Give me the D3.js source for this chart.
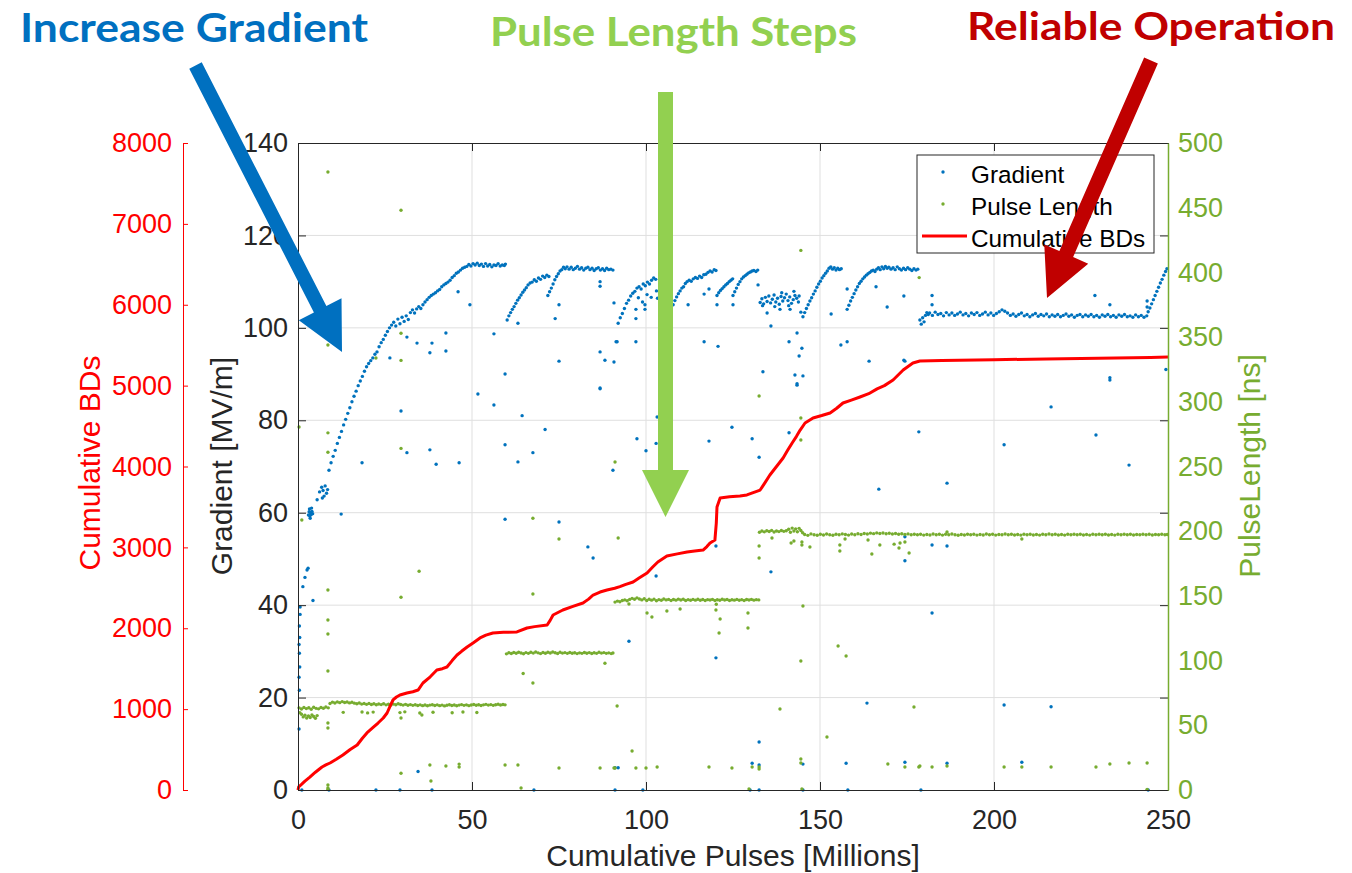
<!DOCTYPE html>
<html><head><meta charset="utf-8">
<script src="https://cdn.jsdelivr.net/npm/d3@7"></script>
<style>body{margin:0;background:#fff;} svg{display:block;}</style>
</head><body><svg id="c" width="1352" height="873"></svg>
<script>
// ---------------- DATA ----------------
const xTicks = [0, 50, 100, 150, 200, 250];
const gradTicks = [0, 20, 40, 60, 80, 100, 120, 140];
const bdTicks = [0, 1000, 2000, 3000, 4000, 5000, 6000, 7000, 8000];
const plTicks = [0, 50, 100, 150, 200, 250, 300, 350, 400, 450, 500];

// Gradient [MV/m] vs cumulative pulses [millions]
const gradStart = [[0.3,13.2],[0.4,21.6],[0.3,24.4],[0.5,26.6],[0.4,29.6],[0.3,31.5],[0.5,33],[0.4,35.5],[0.6,38],[0.6,39.6],[1.4,44],[2.0,46],[2.6,47.6],[2.9,48],[3.0,59.5],[3.2,60.2],[3.4,59.3],[3.6,60],[3.8,59.6],[4.0,60.3],[4.2,59.8],[3.5,58.8],[3.9,61],[3.3,60.8],[5.5,62.8],[6.2,64.5],[6.8,65.5],[7.2,64.8],[7.5,63.6],[7.8,65.8],[8.2,64.2],[7.0,63.2],[8.5,65]];
const gradRamp1 = [[8.9,69.2],[9.5,70.8],[10.1,72.2],[10.7,73.5],[11.3,75],[11.9,76.3],[12.5,77.6],[13.1,79],[13.7,80.2],[14.3,81.5],[14.9,82.7],[15.5,84],[16.1,85.2],[16.7,86.3],[17.3,87.5],[17.9,88.5],[18.5,89.5],[19.1,90.6],[19.7,91.6],[20.3,92.3],[20.9,92.9],[21.5,93.5],[22.1,94.3],[22.7,94.8],[23.3,95.9],[23.9,96.8],[24.5,97.5],[25.1,98.4],[25.7,99.2],[26.3,100],[26.9,100.6],[27.5,101.2],[28.1,100.4],[28.7,101.9],[29.3,100.9],[29.9,102.3],[30.5,101.4],[31.1,102.6],[31.7,101.8],[32.3,103.3],[32.9,103.9],[33.5,103.2],[34.1,104.1],[34.7,104.6],[35.3,104.2],[35.9,105],[36.5,105.6],[37.1,106.1],[37.7,106.6],[38.3,107],[38.9,107.3],[39.5,107.6],[40.1,108],[40.7,108.3],[41.3,108.9],[41.9,109.3],[42.5,109.6],[43.1,109.9],[43.7,110.3],[44.3,110.9],[44.9,111.3],[45.5,111.8],[46.1,112.1],[46.7,112.5],[47.3,112.9],[47.9,113.1],[48.5,113.3],[49.1,113.7],[49.7,113.4],[50.3,113.9],[50.9,113.6],[51.5,114],[52.1,113.5],[52.7,113.8],[53.3,113.3],[53.9,113.9],[54.5,113.4],[55.1,113.7],[55.7,113.2],[56.3,113.6],[56.9,113.5],[57.5,113.9],[58.1,113.4],[58.7,113.6],[59.3,113.5],[59.6,113.8]];
const gradRamp2 = [[60.1,101.7],[60.6,102.6],[61.1,103.3],[61.6,104],[62.1,104.6],[62.6,105.3],[63.1,106],[63.6,106.5],[64.1,107.1],[64.6,107.7],[65.1,108.2],[65.6,108.7],[66.1,109.3],[66.7,109.7],[67.3,109.9],[67.9,110.4],[68.5,110.1],[69.1,110.8],[69.7,110.5],[70.3,111.2],[70.9,110.9],[71.5,111.4],[72.1,111.1],[71.8,107],[72.3,107.8],[72.8,108.6],[73.3,109.5],[73.8,110.4],[74.3,111.1],[74.8,111.7],[75.3,112.3],[75.8,112.6],[76.3,113.1],[76.8,112.8],[77.3,113.2],[77.9,112.7],[78.5,113.1],[79.1,112.6],[79.7,112.9],[80.3,113.3],[80.9,112.7],[81.5,113],[82.1,112.5],[82.7,112.9],[83.3,113.1],[83.9,112.6],[84.5,112.9],[85.1,112.4],[85.7,112.8],[86.3,113],[86.9,112.5],[87.5,112.8],[88.1,112.4],[88.7,112.9],[89.3,112.6],[89.9,112.7],[90.5,112.5]];
const gradRamp3 = [[92,101],[92.6,102.2],[93.2,103.1],[93.8,104.2],[94.4,105.3],[95,106],[95.6,106.9],[96.2,107.5],[96.8,107.9],[97.4,108.6],[98,108.9],[98.6,108.4],[99.2,109.5],[99.8,109.1],[100.4,109.9],[101,109.5],[101.6,110.3],[102.2,110.8],[102.8,110.5],[97.8,106.5],[99,105.6],[100.3,107.2],[101.5,106.6],[103,108],[103.3,106.4],[107.8,105],[108.3,105.9],[108.8,106.7],[109.3,107.4],[109.8,108],[110.3,108.6],[110.8,108.9],[111.3,109.6],[111.8,110],[112.4,110.3],[113,110.1],[113.6,110.6],[114.2,110.9],[114.8,110.7],[115.4,111.2],[116,110.9],[116.6,111.5],[117.2,111.6],[117.8,112],[118.4,112.3],[119,112.1],[119.6,112.6],[120.1,112.4],[120.4,107],[120.9,107.6],[121.4,108.1],[121.9,108.5],[122.4,108.9],[122.9,109.3],[123.4,109.6],[123.9,110],[124.4,110.3],[124.9,110.6],[125,107],[125.5,107.8],[126,108.6],[126.5,109.4],[127,110],[127.5,110.6],[128,111],[128.5,111.3],[129,111.6],[129.5,111.9],[130,112.1],[130.5,112.3],[131,112.4],[131.6,112.2],[132.1,112.5]];
const gradBand = [[132.8,105.5],[133.3,106.3],[133.8,105.2],[134.3,106.6],[134.8,105.7],[135.3,106.9],[135.8,105.4],[136.3,106.2],[136.8,107.1],[137.3,105.6],[137.8,106.4],[138.3,105.1],[138.8,106.8],[139.3,105.8],[139.8,106.5],[140.3,107.3],[140.8,105.9],[141.3,106.7],[141.8,105.3],[142.3,106.1],[142.8,107],[143.3,106.4],[143.8,105.6],[133.5,104.8],[137,104.6],[139,107.6],[141,104.8],[142.5,107.9],[144,106.9]];
const gradRamp4 = [[145.1,102.4],[145.6,103.3],[146.1,104.2],[146.6,105],[147.1,105.8],[147.6,106.5],[148.1,107.3],[148.6,108],[149.1,108.8],[149.6,109.5],[150.1,110.1],[150.6,110.8],[151.1,111.3],[151.6,111.8],[152.1,112.3],[152.6,112.9],[153.1,113.2],[153.6,112.7],[154.1,113],[154.6,112.5],[155.1,112.9],[155.6,112.6],[156.1,112.8],[157.8,104],[158.3,104.9],[158.8,105.8],[159.3,106.6],[159.8,107.4],[160.3,108.2],[160.8,108.9],[161.3,109.6],[161.8,110.1],[162.3,110.6],[162.8,111],[163.3,111.4],[163.8,111.7],[164.3,112],[164.8,112.3],[165.3,112.5],[165.8,112.2],[166.3,112.7],[166.8,113],[167.3,112.6],[167.8,113.2],[168.3,112.8],[168.8,113.3],[169.3,112.9],[169.8,113.1],[170.4,112.7],[171,113],[171.6,112.6],[172.2,113.2],[172.8,112.8],[173.4,112.5],[174,112.9],[174.6,112.6],[175.2,113],[175.8,112.7],[176.4,112.4],[177,112.8],[177.6,112.5],[178.1,112.7]];
const gradFlat = [[178.7,101.7],[179.1,100.8],[179.5,102.2],[179.9,101.3],[180.3,102.7],[180.7,103.3],[181.1,102.9],[181.5,103.2],[182.3,102.7],[183.1,103.4],[183.9,102.9],[184.7,103.1],[185.5,102.6],[186.3,103.3],[187.1,102.8],[187.9,103.2],[188.7,102.7],[189.5,103.0],[190.3,103.4],[191.1,102.8],[191.9,103.1],[192.7,102.6],[193.5,103.2],[194.3,102.9],[195.1,103.3],[195.9,102.7],[196.7,103.0],[197.5,103.4],[198.3,102.8],[199.1,103.2],[199.9,102.7],[200.7,103.1],[201.5,103.5],[202.3,103.9],[203.1,103.6],[203.9,103.2],[204.7,102.7],[205.5,103.0],[206.3,102.5],[207.1,102.9],[207.9,103.2],[208.7,102.6],[209.5,102.9],[210.3,102.4],[211.1,102.8],[211.9,103.1],[212.7,102.5],[213.5,102.9],[214.3,102.6],[215.1,103.0],[215.9,102.4],[216.7,102.8],[217.5,102.5],[218.3,102.9],[219.1,102.4],[219.9,102.7],[220.7,103.0],[221.5,102.5],[222.3,102.8],[223.1,102.3],[223.9,102.7],[224.7,102.9],[225.5,102.4],[226.3,102.8],[227.1,102.5],[227.9,102.9],[228.7,102.4],[229.5,102.7],[230.3,102.3],[231.1,102.8],[231.9,102.5],[232.7,102.9],[233.5,102.4],[234.3,102.7],[235.1,102.3],[235.9,102.8],[236.7,102.5],[237.5,102.9],[238.3,102.4],[239.1,102.6],[239.9,102.3],[240.7,102.8],[241.5,102.4],[242.3,102.7],[243.1,102.3],[243.9,102.6],[244.3,103.5],[244.8,104.3],[245.3,105.2],[245.8,106.1],[246.3,107],[246.8,107.9],[247.3,108.8],[247.8,109.7],[248.3,110.5],[248.8,111.4],[249.3,112.2],[249.7,112.8]];
const gradOutliers = [[18.4,70.8],[29.6,82],[31.3,73],[37.9,73.6],[39.7,70.5],[46.3,70.8],[51.7,85.7],[56.3,83.3],[59.5,74.7],[63.2,71],[64.4,81],[67.5,73],[71,78],[86.8,86.8],[90.5,69.2],[59.5,58.6],[75.0,58],[83.3,52.6],[84.8,50.2],[12.4,59.7],[4.3,41],[34.5,4],[91.1,4.8],
[49.4,105],[46,107.8],[42.5,98.9],[42.5,95],[38.5,96.7],[37.9,94.6],[34.2,96.7],[31.3,98],[26.4,93.5],[56.3,98.7],[59.5,90],[63.2,101],[75,105],[75,92.8],[73.9,102],[86.8,94.8],[88.2,93],[90.8,92.6],[86.8,87],[91.7,97],[86.8,110],[86.8,109],[90.8,105.4],
[91.4,97],[97.1,97],[97.1,102],[97.1,104],[99.7,105],[99.7,104],[112.1,105],[116.7,97],[120.7,96],[120.4,105],[125,105],[116.7,107.3],[118.1,108.4],[132.2,109.3],[133.6,90.5],[134.8,103.2],[135.9,100.4],[138.5,104],[141.1,97],[141.4,104],[143.4,98.9],[144,93.9],[144.8,95.6],[142.8,89.8],[145.1,89.6],[143.4,87.6],[144.5,103.4],[153.2,103],[156,96.3],[157.8,97],[157.8,108.4],[164.1,92.8],[166.1,108.9],[169.3,104.5],[174.1,106.9],[174.1,93],
[182.2,107],[182.2,105],[174.4,92.8],[229,107],[233.3,105],[233.3,89.2],[244,105.8],[244,104.5],[249.4,91],
[97.4,76],[100,73.4],[102.9,75],[103.2,80.7],[118.1,75.5],[124.7,78.5],[130.5,76],[132.5,72],[141.1,77.3],[143.4,87.9],[120.1,52.8],[102.9,46.3],[135.9,47.2],[95.1,32.2],[120.1,28.6],[166.9,65.1],[178.4,77.5],[174.4,54.8],[174.4,49.6],[163.5,18.8],[132.5,10.4],[130.5,5.8],[132.5,5.4],[92,4.8],[145.1,5.6],[157.5,5.8],[174.4,6],
[186.5,66.4],[202.9,74.7],[216.4,82.9],[229.3,76.8],[238.8,70.3],[233.3,88.7],[182.2,53],[186.5,52.8],[182.2,38.3],[202.9,18.4],[216.4,18],[186.5,5.8],[208,6]];
const gradZeros = [[1.1,0],[8.9,0],[22.4,0],[29.3,0],[38.5,0],[67.8,0],[91.1,0],[99.1,0],[129.9,0],[132.5,0],[145.1,0],[158,0],[179,0],[244.3,0]];

// Pulse length [ns]
const pulseBand1 = [[0.3,63.5],[1.0,62.6],[1.7,63.8],[2.4,62.9],[3.1,63.6],[3.8,62.4],[4.5,63.9],[5.2,63.1],[5.9,62.7],[6.6,63.8],[7.3,63.2],[8.0,64.1],[8.7,63.5],[9.2,66.8],[9.9,67.9],[10.6,67.2],[11.3,68.1],[12.0,67.5],[12.7,68.3],[13.4,67.6],[14.1,68],[14.8,67.3],[15.5,67.8],[16.2,67.1],[16.9,66.6],[17.6,67.2],[18.3,66.4],[19.0,66.9],[19.7,66.2],[20.4,66.8],[21.1,66.1],[21.8,66.6],[22.5,65.9],[23.2,66.5],[23.9,66],[24.6,66.7],[25.3,65.8],[26.0,66.3],[26.7,65.7],[27.4,66.4],[28.1,65.9],[28.8,66.6],[29.5,66.1],[30.2,65.6],[30.9,66.2],[31.6,65.5],[32.3,66],[33.0,65.4],[33.7,65.9],[34.4,65.3],[35.1,65.8],[35.8,65.2],[36.5,65.7],[37.2,65.1],[37.9,65.6],[38.6,65.9],[39.3,65.3],[40.0,65.8],[40.7,65.2],[41.4,65.6],[42.1,65.0],[42.8,65.5],[43.5,65.9],[44.2,65.3],[44.9,65.7],[45.6,65.1],[46.3,65.6],[47.0,66],[47.7,65.4],[48.4,65.8],[49.1,65.2],[49.8,65.7],[50.5,66.1],[51.2,65.5],[51.9,65.9],[52.6,65.3],[53.3,65.8],[54.0,66.2],[54.7,65.6],[55.4,66],[56.1,65.4],[56.8,65.9],[57.5,66.3],[58.2,65.7],[58.9,66.1],[59.5,65.8],
[1.5,56.5],[2.0,57.8],[2.5,55.6],[3.0,57.2],[3.5,56],[4.0,58],[4.5,56.8],[5.0,55.4],[5.5,57.5],[0.5,59.8],[1.0,58.5]];
const pulseBand2 = [[59.9,105.2],[60.6,106.1],[61.3,105.5],[62.0,106.3],[62.7,105.7],[63.4,106.5],[64.1,105.9],[64.8,105.3],[65.5,106.2],[66.2,105.6],[66.9,106.4],[67.6,105.8],[68.3,106.6],[69.0,106],[69.7,105.4],[70.4,106.3],[71.1,105.7],[71.8,106.5],[72.5,105.9],[73.2,106.7],[73.9,106.1],[74.6,105.5],[75.3,106.4],[76.0,105.8],[76.7,106.2],[77.4,105.6],[78.1,106.3],[78.8,105.7],[79.5,106.1],[80.2,105.4],[80.9,106],[81.6,105.6],[82.3,106.3],[83.0,105.7],[83.7,106.2],[84.4,105.5],[85.1,106.1],[85.8,105.6],[86.5,106.4],[87.2,105.8],[87.9,106.2],[88.6,105.6],[89.3,106],[90.0,105.4],[90.5,105.9]];
const pulseBand3 = [[91.1,145.2],[91.8,146],[92.5,145.5],[93.2,146.4],[93.9,146.9],[94.6,146.2],[95.3,147.3],[96.0,148.1],[96.7,147.4],[97.4,148.5],[98.1,147.6],[98.8,146.9],[99.5,147.8],[100.2,146.5],[100.9,147.4],[101.6,146.7],[102.3,147.5],[103.0,146.2],[103.7,147.1],[104.4,146.6],[105.1,147.6],[105.8,146.9],[106.5,147.3],[107.2,146.4],[107.9,147.2],[108.6,146.7],[109.3,147.5],[110.0,146.8],[110.7,147.4],[111.4,146.5],[112.1,147.1],[112.8,146.6],[113.5,147.3],[114.2,146.7],[114.9,147.4],[115.6,146.6],[116.3,147.2],[117.0,146.5],[117.7,147.1],[118.4,146.8],[119.1,147.3],[119.8,146.4],[120.5,147],[121.2,146.6],[121.9,147.4],[122.6,146.8],[123.3,147.2],[124.0,146.5],[124.7,147],[125.4,146.7],[126.1,147.3],[126.8,146.6],[127.5,147.1],[128.2,146.5],[128.9,147.2],[129.6,146.8],[130.3,147.3],[131.0,146.7],[131.7,147.1],[132.4,146.9],[120.2,143.5]];
const pulseBand4 = [[132.6,199.2],[133.3,200.1],[134.0,199.5],[134.7,200.4],[135.4,199.8],[136.1,200.6],[136.8,199.4],[137.5,200.2],[138.2,199.7],[138.9,200.5],[139.6,199.9],[140.3,200.3],[141.0,201.5],[141.5,199.2],[142.0,202.4],[142.5,200.2],[143.0,201.8],[143.5,199.6],[144.0,202.2],[144.5,200.5],[145.0,198.8],
[145.6,197.4],[146.5,196.8],[147.4,197.9],[148.3,197.2],[149.2,196.9],[150.1,197.7],[151.0,197.1],[151.9,197.8],[152.8,197.3],[153.7,196.9],[154.6,197.6],[155.5,197.2],[156.4,197.9],[157.3,197.4],[158.2,197.0],[159.1,197.8],[160.0,197.3],[160.9,198.0],[161.8,197.5],[162.7,198.2],[163.6,197.8],[164.5,198.5],[165.4,198.1],[166.3,198.7],[167.2,198.2],[168.1,198.6],[169.0,198.0],[169.9,198.4],[170.8,197.8],[171.7,198.2],[172.6,197.6],[173.5,198.0],[174.4,197.4],[175.3,197.9],[176.2,197.3],[177.1,197.7],[178.0,197.2],[178.9,197.6],[179.8,197.0],[180.7,197.5],[181.6,197.1],[182.5,197.8],[183.4,197.3],[184.3,197.7],[185.2,197.0],[186.1,197.6],[187.0,197.2],[187.9,197.8],[188.8,197.3],[189.7,196.9],[190.6,197.5],[191.5,197.1],[192.4,197.7],[193.3,197.2],[194.2,197.6],[195.1,197.0],[196.0,197.5],[196.9,197.1],[197.8,197.8],[198.7,197.3],[199.6,197.6],[200.5,197.0],[201.4,197.5],[202.3,197.2],[203.2,197.8],[204.1,197.3],[205.0,197.7],[205.9,197.1],[206.8,197.5],[207.7,197.0],[208.6,197.6],[209.5,197.2],[210.4,197.7],[211.3,197.1],[212.2,197.5],[213.1,197.0],[214.0,197.6],[214.9,197.2],[215.8,197.8],[216.7,197.3],[217.6,197.6],[218.5,197.1],[219.4,197.5],[220.3,197.0],[221.2,197.6],[222.1,197.2],[223.0,197.7],[223.9,197.3],[224.8,197.6],[225.7,197.1],[226.6,197.5],[227.5,197.0],[228.4,197.6],[229.3,197.2],[230.2,197.7],[231.1,197.3],[232.0,197.6],[232.9,197.1],[233.8,197.5],[234.7,197.0],[235.6,197.6],[236.5,197.2],[237.4,197.7],[238.3,197.3],[239.2,197.6],[240.1,197.1],[241.0,197.5],[241.9,197.2],[242.8,197.7],[243.7,197.3],[244.6,197.6],[245.5,197.1],[246.4,197.5],[247.3,197.2],[248.2,197.7],[249.1,197.3],[249.8,197.5]];
const pulseOutliers = [[8.6,477.6],[29.6,448],[8.6,343.9],[22.4,333.8],[29.6,353],[29.6,332],[144.5,417],[178.5,396],
[0.3,280.5],[8.6,276],[8.6,261],[29.6,264],[91.1,253.5],[1.1,208.7],[34.8,169],[8.6,154.6],[29.6,149],[8.6,131.4],[8.6,120.6],[8.6,92],[67.5,151.5],[67.5,210],[75,194],[64.7,90],[67.5,82.7],[88.2,98],[92,194.7],
[13,60],[18.4,60.3],[20,59.6],[21.6,60.2],[29.3,59.8],[30.7,60.4],[35,59.5],[38.8,60.1],[44.3,59.7],[47.4,60.3],[51.4,59.9],[8.6,51.8],[8.6,47.9],[29.6,55.6],[35.6,58],
[29.6,13],[37.9,19.3],[42.5,18.5],[46.3,20],[46.3,17.8],[59.5,19.3],[63.2,19.3],[75,17],[86.8,17],[91.1,17],[38.2,7],[8.6,3.9],[8.6,1.5],[64.1,1.5],[8.6,0.5],
[132.5,304.5],[144.5,287.5],[144.5,270.5],[132.5,188.6],[132.5,179.3],[136.2,194.7],[141.7,190.9],[142.5,192.4],[144.8,191.6],[144.8,189.3],[147.1,187.8],[155.7,189.3],[155.7,184.7],[157.2,194],[163.8,193.2],[164.9,182.4],[167.2,189.3],[171.3,190],[173,190.9],[172.7,187],[175.6,183.2],[174.4,191.6],
[95.1,143.7],[100.3,136.8],[101.7,133.7],[106,138.3],[109.8,139.9],[120.1,139.1],[121.3,132.1],[121,121.3],[129.3,136.8],[129.3,125.2],[145.1,142.2],[144.5,99.7],[155.2,111.3],[157.5,103.6],[91.7,64.9],[138.5,62.6],[152,41],[177,64.1],[96,30.1],
[90.8,17],[97.1,17],[100,17],[103.2,17.8],[118.1,17.8],[124.7,17],[130.5,17.8],[132.5,17.8],[132.5,16.2],[144.5,24],[144.5,20.9],[169.5,20.1],[174.4,17.8],[178.4,17.8],[129.6,0.8],[144.8,0.8],
[186.5,199.4],[208,194],[178.7,18.5],[182.2,17.8],[186.5,18.5],[202.9,17.8],[208,17.8],[216.4,17.8],[229.3,17.8],[233.3,20.1],[238.8,20.9],[244,20.9],[244,0.5]];

// Cumulative breakdowns
const bdCurve = [[0,0],[0.2,40],[1,70],[2,110],[3.4,160],[5,220],[6.9,284],[8,310],[9.2,334],[11,380],[12.9,433],[15,500],[17,556],[18.5,640],[19.8,705],[21.5,770],[23,828],[24.5,890],[25.6,952],[26.5,1040],[27.3,1113],[28.3,1150],[29.3,1175],[31.3,1199],[33,1215],[34.5,1236],[35.9,1323],[38,1400],[39.9,1484],[41.5,1500],[42.8,1521],[44.3,1600],[45.7,1669],[47,1715],[48.6,1768],[50.3,1818],[52.3,1880],[54,1915],[56,1941],[59,1950],[62.9,1954],[65.8,2003],[68,2020],[71.6,2040],[72.5,2100],[73.3,2164],[76.1,2226],[79,2270],[81.9,2312],[83.5,2360],[84.8,2411],[86.8,2448],[88.8,2473],[91,2495],[92.5,2515],[94,2540],[96.3,2572],[98,2620],[100.3,2683],[102,2760],[103.4,2819],[106,2893],[109,2920],[111.8,2943],[114,2955],[116.4,2967],[117.5,3010],[118.4,3054],[119.8,3091],[120.2,3300],[120.4,3499],[121.3,3610],[124,3625],[127,3635],[129,3648],[131,3680],[132.8,3709],[134.2,3800],[135.6,3895],[137.5,4000],[139.4,4105],[140.7,4200],[142,4291],[143.2,4370],[144.3,4451],[145.7,4538],[148,4600],[150.5,4630],[152.9,4662],[154.8,4720],[156.6,4785],[159,4820],[161.5,4859],[164,4900],[166.4,4960],[168.5,5000],[171,5070],[173.9,5193],[176.7,5280],[178.7,5304],[185,5310],[200,5320],[215,5330],[230,5338],[245,5348],[250,5355]];

const legendLabels = ["Gradient", "Pulse Length", "Cumulative BDs"];

// ---------------- STYLE / LAYOUT ----------------
const C = {blue:"#0072BD", green:"#77AC30", red:"#FF0000", axis:"#262626", grid:"#dfdfdf"};
const FONT = "'Liberation Sans', Arial, Helvetica, sans-serif";
const svg = d3.select("#c");
svg.append("rect").attr("width",1352).attr("height",873).attr("fill","#fff");

const x = d3.scaleLinear().domain([0,250]).range([298,1168]);
const yG = d3.scaleLinear().domain([0,140]).range([790,143]);
const yP = d3.scaleLinear().domain([0,500]).range([790,143]);
const yB = d3.scaleLinear().domain([0,8000]).range([790,143]);
const fmt = d3.format("d");

// grid
const grid = svg.append("g");
grid.selectAll("line.v").data(xTicks.slice(1,-1)).join("line")
  .attr("x1",d=>x(d)).attr("x2",d=>x(d)).attr("y1",143).attr("y2",790)
  .attr("stroke",C.grid).attr("stroke-width",1);
grid.selectAll("line.h").data(gradTicks.slice(1,-1)).join("line")
  .attr("y1",d=>yG(d)).attr("y2",d=>yG(d)).attr("x1",298).attr("x2",1168)
  .attr("stroke",C.grid).attr("stroke-width",1);

// data
const R = 1.7;
const blueSets = [gradStart, gradRamp1, gradRamp2, gradRamp3, gradBand, gradRamp4, gradFlat, gradOutliers, gradZeros];
const gBlue = svg.append("g");
blueSets.forEach(s => {
  gBlue.append("g").selectAll("circle").data(s).join("circle")
    .attr("cx",d=>x(d[0])).attr("cy",d=>yG(d[1])).attr("r",R).attr("fill",C.blue);
});
const greenSets = [pulseBand1, pulseBand2, pulseBand3, pulseBand4, pulseOutliers];
const gGreen = svg.append("g");
greenSets.forEach(s => {
  gGreen.append("g").selectAll("circle").data(s).join("circle")
    .attr("cx",d=>x(d[0])).attr("cy",d=>yP(d[1])).attr("r",R).attr("fill",C.green);
});
svg.append("path").datum(bdCurve)
  .attr("d", d3.line().x(d=>x(d[0])).y(d=>yB(d[1])))
  .attr("fill","none").attr("stroke",C.red).attr("stroke-width",3).attr("stroke-linejoin","round");

// axes
function styleAxis(g, color, size){
  g.selectAll("text").attr("font-family",FONT).attr("font-size",size).attr("fill",color);
  g.selectAll("line").attr("stroke",color).attr("stroke-width",1);
  g.select(".domain").attr("stroke",color).attr("stroke-width",1);
}
const TS = 27;
styleAxis(svg.append("g").attr("transform","translate(0,143)")
  .call(d3.axisTop(x).tickValues(xTicks).tickSizeInner(-8).tickSizeOuter(0).tickFormat("")), C.axis, TS);
styleAxis(svg.append("g").attr("transform","translate(1168,0)")
  .call(d3.axisRight(yG).tickValues(gradTicks).tickSizeInner(-8).tickSizeOuter(0).tickFormat("")), C.axis, TS);
styleAxis(svg.append("g").attr("transform","translate(0,790)")
  .call(d3.axisBottom(x).tickValues(xTicks).tickSizeInner(-8).tickSizeOuter(0).tickPadding(20).tickFormat(fmt)), C.axis, TS);
styleAxis(svg.append("g").attr("transform","translate(298,0)")
  .call(d3.axisLeft(yG).tickValues(gradTicks).tickSizeInner(-8).tickSizeOuter(0).tickPadding(10).tickFormat(fmt)), C.axis, TS);
const gr = svg.append("g").attr("transform","translate(1168,0)")
  .call(d3.axisRight(yP).tickValues(plTicks).tickSizeInner(0).tickSizeOuter(0).tickPadding(10).tickFormat(fmt));
styleAxis(gr, C.green, TS);
gr.select(".domain").attr("stroke-width",1.5);
styleAxis(svg.append("g").attr("transform","translate(183,0)")
  .call(d3.axisLeft(yB).tickValues(bdTicks).tickSizeInner(-5).tickSizeOuter(0).tickPadding(11).tickFormat(fmt)), C.red, TS);

// axis titles
const LS = 30;
svg.append("text").attr("x",733).attr("y",866).attr("text-anchor","middle")
  .attr("font-family",FONT).attr("font-size",LS).attr("fill",C.axis).text("Cumulative Pulses [Millions]");
svg.append("text").attr("transform","translate(232,466) rotate(-90)").attr("text-anchor","middle")
  .attr("font-family",FONT).attr("font-size",LS).attr("fill",C.axis).text("Gradient [MV/m]");
svg.append("text").attr("transform","translate(100,463) rotate(-90)").attr("text-anchor","middle")
  .attr("font-family",FONT).attr("font-size",LS).attr("fill",C.red).text("Cumulative BDs");
svg.append("text").attr("transform","translate(1260,466) rotate(-90)").attr("text-anchor","middle")
  .attr("font-family",FONT).attr("font-size",LS).attr("fill",C.green).text("PulseLength [ns]");

// legend
const lg = svg.append("g");
lg.append("rect").attr("x",917).attr("y",155).attr("width",237).attr("height",98)
  .attr("fill","#fff").attr("stroke",C.axis).attr("stroke-width",1);
lg.append("circle").attr("cx",943).attr("cy",172).attr("r",R).attr("fill",C.blue);
lg.append("circle").attr("cx",943).attr("cy",204).attr("r",R).attr("fill",C.green);
lg.append("line").attr("x1",922).attr("x2",967).attr("y1",236).attr("y2",236).attr("stroke",C.red).attr("stroke-width",3);
lg.selectAll("text").data(legendLabels).join("text")
  .attr("x",971).attr("y",(d,i)=>183+i*32)
  .attr("font-family",FONT).attr("font-size",24.3).attr("fill","#000").text(d=>d);

// annotations (arrows + titles), in page pixels
function arrow(t, p, sw, hl, hw, color){
  const dx=p[0]-t[0], dy=p[1]-t[1], L=Math.hypot(dx,dy);
  const ux=dx/L, uy=dy/L, nx=-uy, ny=ux;
  const bx=p[0]-ux*hl, by=p[1]-uy*hl;
  const pts=[
    [t[0]+nx*sw/2, t[1]+ny*sw/2],[bx+nx*sw/2, by+ny*sw/2],[bx+nx*hw/2, by+ny*hw/2],
    p,[bx-nx*hw/2, by-ny*hw/2],[bx-nx*sw/2, by-ny*sw/2],[t[0]-nx*sw/2, t[1]-ny*sw/2]];
  svg.append("polygon").attr("points",pts.map(q=>q.join(",")).join(" ")).attr("fill",color);
}
arrow([195.5,65.5],[342,352],14,48,48,"#0070C0");
arrow([665.5,92],[665.5,517],15,47,47,"#92D050");
arrow([1151,60.5],[1047,298],15,48,48,"#C00000");

const TF = "Lato, 'Open Sans', sans-serif";
[["Increase Gradient",20,42,348,41,"#0070C0"],["Pulse Length Steps",490,46,367,41,"#92D050"],["Reliable Operation",967,39.5,368,39,"#C00000"]]
.forEach(a=>{
  svg.append("text").attr("x",a[1]).attr("y",a[2]).attr("font-family",TF).attr("font-weight",700)
    .attr("font-size",a[4]).attr("fill",a[5]).attr("textLength",a[3]).attr("lengthAdjust","spacingAndGlyphs").text(a[0]);
});
</script></body></html>
